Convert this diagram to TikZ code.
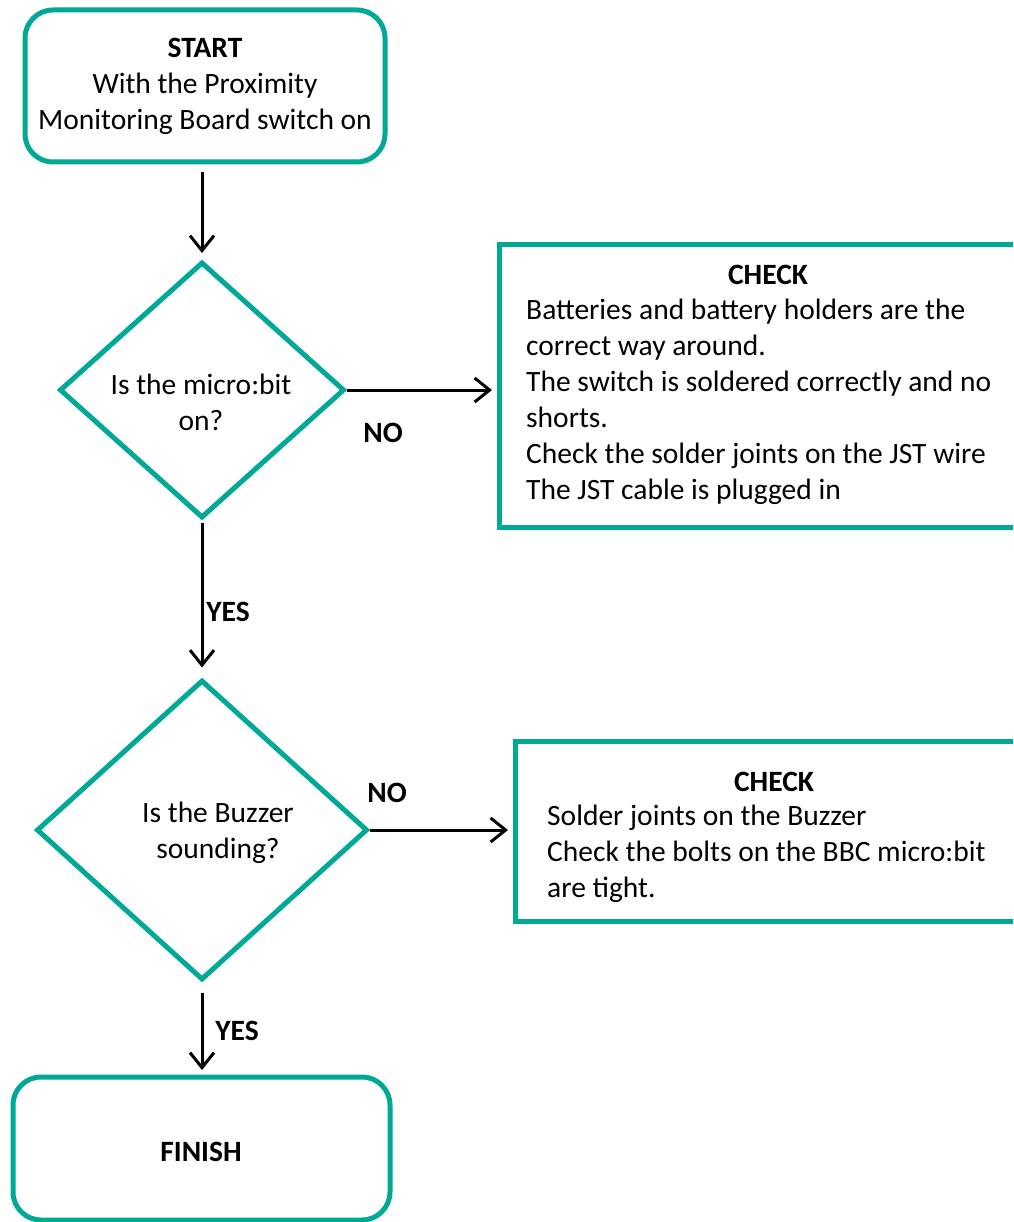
\documentclass[tikz,border=0pt]{standalone}
\usepackage{fontspec}
\setmainfont{Carlito}
\usetikzlibrary{shapes.geometric,arrows.meta}
\definecolor{teal}{RGB}{0,168,150}
\begin{document}
\begin{tikzpicture}[x=1pt,y=-1pt,
  font=\fontsize{29.5}{36}\selectfont,
  term/.style={draw=teal,line width=5pt,rectangle,rounded corners=28pt,inner sep=0pt},
  decide/.style={draw=teal,line width=5pt,diamond,inner sep=0pt},
  checkbox/.style={draw=teal,line width=5pt,rectangle,inner sep=0pt},
  arr/.style={draw=black,line width=3pt,-{Straight Barb[length=15pt,width=24pt,line width=3pt]}},
  lbl/.style={font=\fontsize{29.5}{36}\selectfont\bfseries,inner sep=0pt}]
\useasboundingbox (0,0) rectangle (1013,1222);
\clip (0,0) rectangle (1013,1222);
\node[term,minimum width=360pt,minimum height=152pt] (start) at (205,86) {};
\node[align=center,inner sep=0pt] (starttxt) at (205,86) {\textbf{START}\\With the Proximity\\Monitoring Board switch on};
\node[decide,minimum width=285pt,minimum height=256pt] (d1) at (202,390) {};
\node[align=center,inner sep=0pt] (d1txt) at (201,402) {Is the micro:bit\\on?};
\node[checkbox,minimum width=531pt,minimum height=282pt] (c1) at (764.5,386) {};
\node[lbl] (c1title) at (768,275) {CHECK};
\node[align=left,inner sep=0pt,anchor=west] (c1txt) at (526,402) {Batteries and battery holders are the\\correct way around.\\The switch is soldered correctly and no\\shorts.\\Check the solder joints on the JST wire\\The JST cable is plugged in};
\node[decide,minimum width=331pt,minimum height=300pt] (d2) at (202,830) {};
\node[align=center,inner sep=0pt] (d2txt) at (218,833) {Is the Buzzer\\sounding?};
\node[checkbox,minimum width=515pt,minimum height=180pt] (c2) at (772.5,831) {};
\node[lbl] (c2title) at (774,782) {CHECK};
\node[align=left,inner sep=0pt,anchor=west] (c2txt) at (547,854) {Solder joints on the Buzzer\\Check the bolts on the BBC micro:bit\\are tight.};
\node[term,minimum width=377pt,minimum height=143pt] (finish) at (201.5,1148.5) {};
\node[lbl] (finishtxt) at (201,1152) {FINISH};
\draw[arr,shorten <=7.5pt,shorten >=6.5pt] (start.south -| d1.north) -- (d1.north);
\draw[arr,shorten >=4.5pt] (d1.east) -- (d1.east -| c1.west);
\node[lbl] (no1) at (383,433) {NO};
\draw[arr,shorten <=2.5pt,shorten >=10pt] (d1.south) -- (d2.north);
\node[lbl] (yes1) at (228,612) {YES};
\draw[arr,shorten >=4.5pt] (d2.east) -- (d2.east -| c2.west);
\node[lbl] (no2) at (387,793) {NO};
\draw[arr,shorten <=10pt,shorten >=4.5pt] (d2.south) -- (d2.south |- finish.north);
\node[lbl] (yes2) at (237,1031) {YES};
\end{tikzpicture}
\end{document}
